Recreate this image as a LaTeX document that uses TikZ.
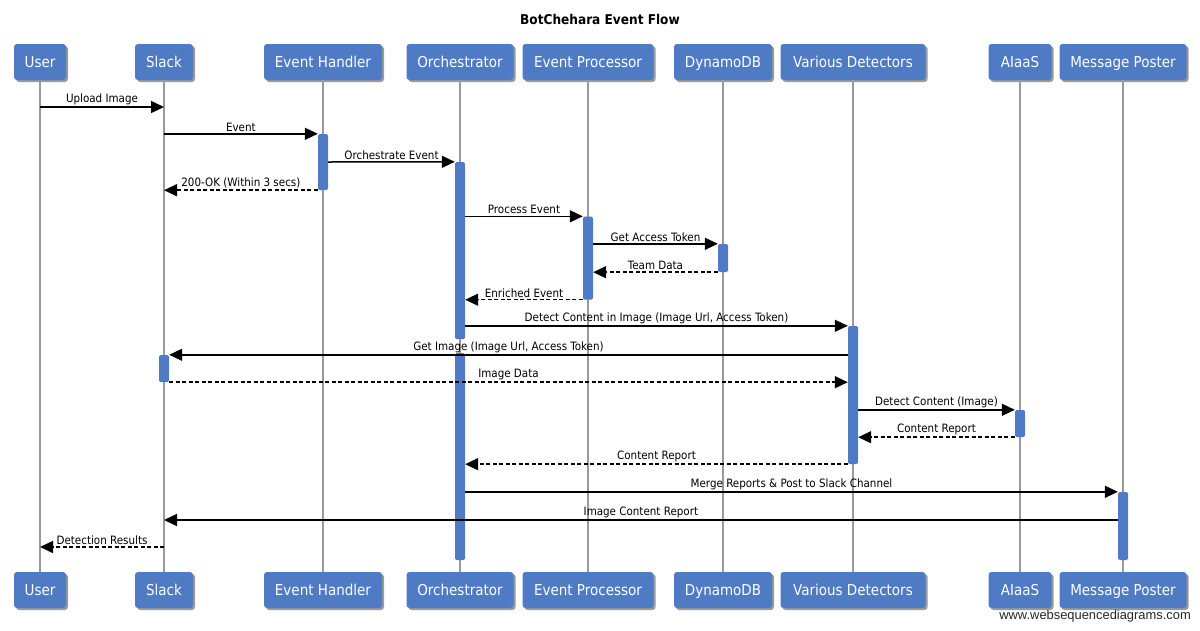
\documentclass[tikz,border=0pt]{standalone}
\usepackage{fontspec}
\setmainfont{DejaVu Sans Condensed}
\setsansfont{DejaVu Sans Condensed}
\newfontfamily\wmfont{Liberation Sans}
\usetikzlibrary{shadows,arrows.meta}
\definecolor{boxblue}{HTML}{4F7BC4}
\definecolor{lifegray}{HTML}{9A9A9A}
\begin{document}
\begin{tikzpicture}[x=1pt,y=-1pt,
  actor/.style={fill=boxblue, rounded corners=3pt, minimum height=36pt, text=white,
    font=\fontsize{15}{15}\selectfont, inner sep=0pt, text height=11pt, text depth=1pt,
    drop shadow={shadow xshift=2pt,shadow yshift=-2pt,fill=black,opacity=0.4}},
  life/.style={draw=lifegray, line width=1.6pt},
  actbar/.style={fill=boxblue, rounded corners=1.5pt, minimum width=10pt, inner sep=0pt},
  msg/.style={line width=1.5pt, -{Triangle[length=13pt,width=12pt]}},
  ret/.style={msg, dash pattern=on 4pt off 2.5pt},
  lbl/.style={font=\fontsize{11.5}{11.5}\selectfont, midway, above=0.5pt, inner sep=1pt}
]
\useasboundingbox (0,0) rectangle (1200,630);
\node[font=\bfseries\fontsize{13.5}{13.5}\selectfont] (title) at (600,19) {BotChehara Event Flow};

% header boxes
\node[actor, minimum width=52pt]  (user)  at (40,62)   {User};
\node[actor, minimum width=58pt]  (slack) at (164,62)  {Slack};
\node[actor, minimum width=118pt] (eh)    at (323,62)  {Event Handler};
\node[actor, minimum width=107pt] (orch)  at (460,62)  {Orchestrator};
\node[actor, minimum width=131pt] (ep)    at (588,62)  {Event Processor};
\node[actor, minimum width=98pt]  (db)    at (723,62)  {DynamoDB};
\node[actor, minimum width=145pt] (vd)    at (853,62)  {Various Detectors};
\node[actor, minimum width=63pt]  (ai)    at (1020,62) {AIaaS};
\node[actor, minimum width=127pt] (mp)    at (1123,62) {Message Poster};

% footer boxes
\node[actor, minimum width=52pt]  (userB)  at (40,590)   {User};
\node[actor, minimum width=58pt]  (slackB) at (164,590)  {Slack};
\node[actor, minimum width=118pt] (ehB)    at (323,590)  {Event Handler};
\node[actor, minimum width=107pt] (orchB)  at (460,590)  {Orchestrator};
\node[actor, minimum width=131pt] (epB)    at (588,590)  {Event Processor};
\node[actor, minimum width=98pt]  (dbB)    at (723,590)  {DynamoDB};
\node[actor, minimum width=145pt] (vdB)    at (853,590)  {Various Detectors};
\node[actor, minimum width=63pt]  (aiB)    at (1020,590) {AIaaS};
\node[actor, minimum width=127pt] (mpB)    at (1123,590) {Message Poster};

% lifelines
\foreach \a in {user,slack,eh,orch,ep,db,vd,ai,mp}
  \draw[life] (\a.south) -- (\a B.north);

% activation bars
\node[actbar, minimum height=56pt]  (ehact)  at (323,162)   {};
\node[actbar, minimum height=177pt] (oract1) at (460,250.5) {};
\node[actbar, minimum height=207pt] (oract2) at (460,456.5) {};
\node[actbar, minimum height=83pt]  (epact)  at (588,258)   {};
\node[actbar, minimum height=28pt]  (dbact)  at (723,258)   {};
\node[actbar, minimum height=138pt] (vdact)  at (853,395)   {};
\node[actbar, minimum height=27pt]  (slact)  at (164,368.5) {};
\node[actbar, minimum height=27pt]  (aiact)  at (1020,423.5){};
\node[actbar, minimum height=68pt]  (mpact)  at (1123,526)  {};

% row coordinates
\coordinate (m1) at (0,107);
\coordinate (m16) at (0,520);
\coordinate (m17) at (0,547);

% messages
\draw[msg] (user |- m1) -- (slack |- m1) node[lbl] {Upload Image};
\draw[msg] (slack |- ehact.north) -- (ehact.north west) node[lbl] {Event};
\draw[msg] (ehact.east) -- (oract1.north west) node[lbl] {Orchestrate Event};
\draw[ret] (ehact.south west) -- (slack |- ehact.south) node[lbl] {200-OK (Within 3 secs)};
\draw[msg] (oract1.east |- epact.north) -- (epact.north west) node[lbl] {Process Event};
\draw[msg] (epact.east |- dbact.north) -- (dbact.north west) node[lbl] {Get Access Token};
\draw[ret] (dbact.south west) -- (epact.east |- dbact.south) node[lbl] {Team Data};
\draw[ret] (epact.south west) -- (oract1.east |- epact.south) node[lbl] {Enriched Event};
\draw[msg] (oract1.east |- vdact.north) -- (vdact.north west) node[lbl] {Detect Content in Image (Image Url, Access Token)};
\draw[msg] (vdact.west |- slact.north) -- (slact.north east) node[lbl] {Get Image (Image Url, Access Token)};
\draw[ret] (slact.south east) -- (vdact.west |- slact.south) node[lbl] {Image Data};
\draw[msg] (vdact.east |- aiact.north) -- (aiact.north west) node[lbl] {Detect Content (Image)};
\draw[ret] (aiact.south west) -- (vdact.east |- aiact.south) node[lbl] {Content Report};
\draw[ret] (vdact.south west) -- (oract2.east |- vdact.south) node[lbl] {Content Report};
\draw[msg] (oract2.east |- mpact.north) -- (mpact.north west) node[lbl] {Merge Reports \& Post to Slack Channel};
\draw[msg] (mpact.west |- m16) -- (slack |- m16) node[lbl] {Image Content Report};
\draw[ret] (slack |- m17) -- (user |- m17) node[lbl] {Detection Results};

\node[anchor=east, font=\wmfont\fontsize{12.9}{12.9}\selectfont, text=black!85, inner sep=0pt] (wm) at (1191,616) {www.websequencediagrams.com};
\end{tikzpicture}
\end{document}
